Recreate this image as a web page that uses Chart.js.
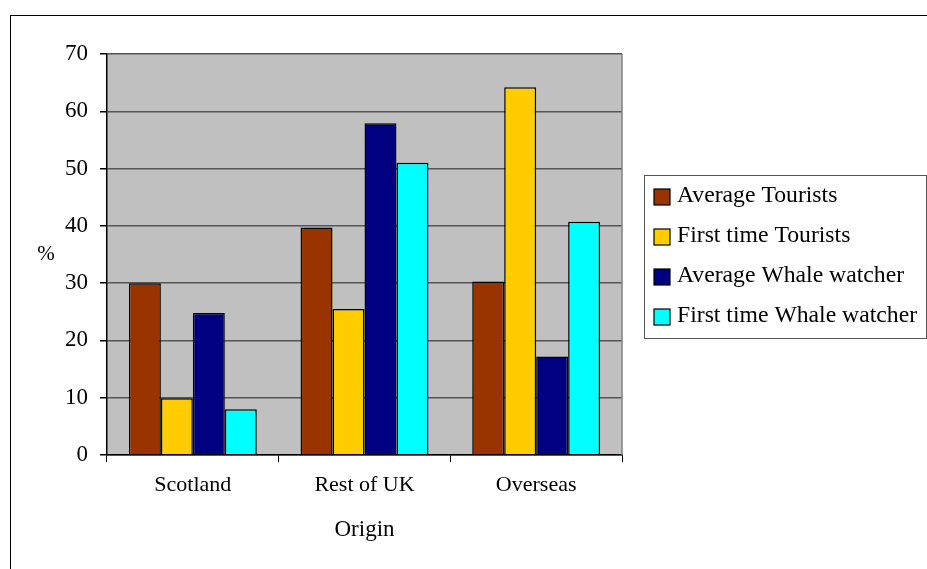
<!DOCTYPE html>
<html>
<head>
<meta charset="utf-8">
<script src="https://cdn.jsdelivr.net/npm/chart.js@4/dist/chart.umd.min.js"></script>
<style>
  html, body { margin: 0; padding: 0; background: #fff; }
  #wrap { width: 927px; height: 569px; position: relative; }
</style>
</head>
<body>
<div id="wrap"><canvas id="c" width="927" height="569"></canvas></div>
<script>
// Origin of visitors, percentage per group
const categories = ['Scotland', 'Rest of UK', 'Overseas'];
const seriesNames = ['Average Tourists', 'First time Tourists', 'Average Whale watcher', 'First time Whale watcher'];
const averageTourists = [30, 39.7, 30.3];
const firstTimeTourists = [9.9, 25.5, 64.2];
const averageWhaleWatcher = [24.8, 57.9, 17.2];
const firstTimeWhaleWatcher = [8, 51, 40.7];
const yTicks = [0, 10, 20, 30, 40, 50, 60, 70];

const seriesColors = ['#993300', '#FFCC00', '#000080', '#00FFFF'];
const seriesValues = [averageTourists, firstTimeTourists, averageWhaleWatcher, firstTimeWhaleWatcher];
const SERIF = '"Liberation Serif", "Times New Roman", serif';

// Gray plot background, frame, outer border, "%" label and legend box
const decor = {
  id: 'decor',
  beforeDraw(chart) {
    const { ctx, chartArea: a } = chart;
    ctx.save();
    ctx.fillStyle = '#fff';
    ctx.fillRect(0, 0, chart.width, chart.height);
    ctx.strokeStyle = '#000';
    ctx.lineWidth = 1;
    ctx.strokeRect(10.5, 15.5, 1000, 1000);
    ctx.fillStyle = '#C0C0C0';
    ctx.fillRect(a.left, a.top, a.right - a.left, a.bottom - a.top);
    ctx.restore();
  },
  afterDraw(chart) {
    const { ctx, chartArea: a } = chart;
    ctx.save();
    ctx.strokeStyle = '#808080';
    ctx.lineWidth = 1.5;
    ctx.beginPath();
    ctx.moveTo(a.right, a.top);
    ctx.lineTo(a.right, a.bottom);
    ctx.stroke();

    ctx.fillStyle = '#000';
    ctx.font = '21px ' + SERIF;
    ctx.textAlign = 'center';
    ctx.textBaseline = 'middle';
    ctx.fillText('%', 46, 254);

    // legend
    const lx = 644, ly = 175, lw = 282, lh = 163;
    ctx.strokeStyle = '#555';
    ctx.lineWidth = 1;
    ctx.strokeRect(lx + 0.5, ly + 0.5, lw, lh);
    ctx.font = '23.7px ' + SERIF;
    ctx.textAlign = 'left';
    chart.data.datasets.forEach((ds, i) => {
      const cy = 196 + i * 40;
      ctx.fillStyle = ds.backgroundColor;
      ctx.fillRect(654, cy - 7, 16, 16);
      ctx.strokeStyle = '#000';
      ctx.lineWidth = 1.2;
      ctx.strokeRect(654, cy - 7, 16, 16);
      ctx.fillStyle = '#000';
      ctx.fillText(ds.label, 677, cy);
    });
    ctx.restore();
  }
};

new Chart(document.getElementById('c'), {
  type: 'bar',
  data: {
    labels: categories,
    datasets: seriesNames.map((name, i) => ({
      label: name,
      data: seriesValues[i],
      backgroundColor: seriesColors[i],
      borderColor: '#000',
      borderWidth: 1.5,
      categoryPercentage: 0.745,
      barPercentage: 1.0
    }))
  },
  options: {
    responsive: false,
    animation: false,
    devicePixelRatio: 1,
    layout: { padding: { left: 0, top: 54, right: 305, bottom: 0 } },
    plugins: {
      legend: { display: false },
      tooltip: { enabled: false }
    },
    scales: {
      x: {
        offset: true,
        grid: {
          display: true,
          offset: true,
          drawOnChartArea: false,
          drawTicks: true,
          tickLength: 7,
          tickColor: '#000',
          color: '#000'
        },
        border: { display: true, color: '#000', width: 1.5 },
        ticks: {
          color: '#000',
          font: { family: SERIF, size: 22 },
          padding: 10
        },
        title: {
          display: true,
          text: 'Origin',
          color: '#000',
          font: { family: SERIF, size: 23 },
          padding: { top: 10, bottom: 25 }
        },
        afterFit(scale) { scale.height = 114; }
      },
      y: {
        min: 0,
        max: 70,
        afterBuildTicks(scale) { scale.ticks = yTicks.map(v => ({ value: v })); },
        grid: {
          color: '#555',
          lineWidth: 1.5,
          tickLength: 7,
          tickColor: '#000'
        },
        border: { display: true, color: '#000', width: 1.5 },
        ticks: {
          color: '#000',
          font: { family: SERIF, size: 23 },
          padding: 12
        },
        afterFit(scale) { scale.width = 107; }
      }
    }
  },
  plugins: [decor]
});
</script>
</body>
</html>
